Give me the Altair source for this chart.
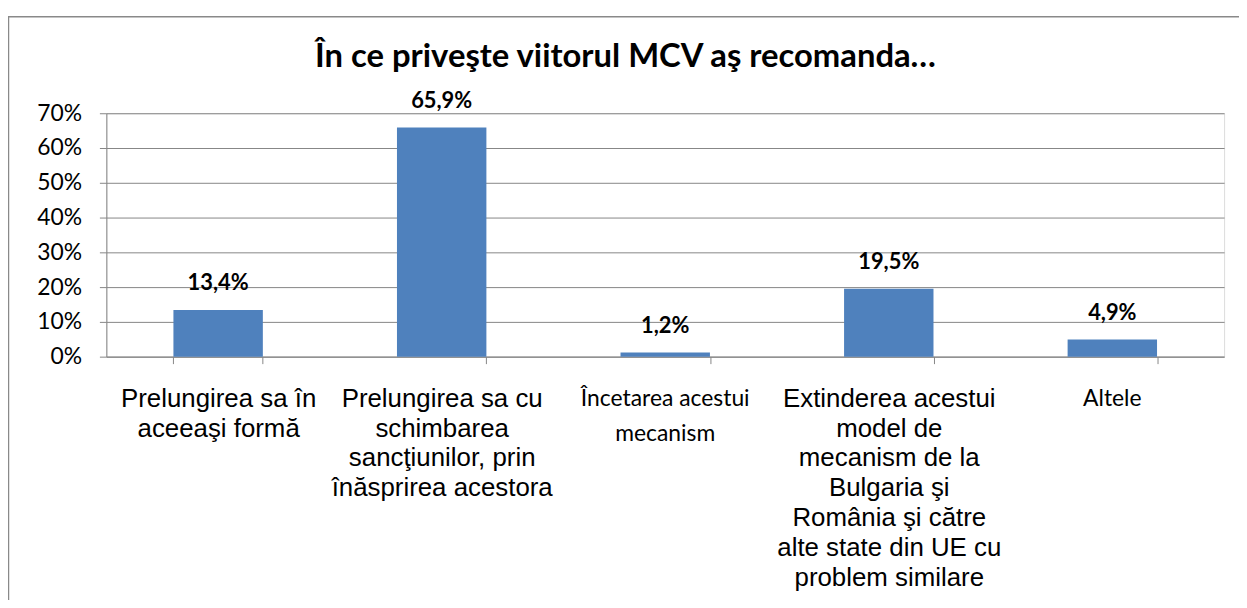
import altair as alt
import pandas as pd

categories = [
    "Prelungirea sa în|aceeaşi formă",
    "Prelungirea sa cu|schimbarea|sancţiunilor, prin|înăsprirea acestora",
    "Încetarea acestui|mecanism",
    "Extinderea acestui|model de|mecanism de la|Bulgaria şi|România şi către|alte state din UE cu|problem similare",
    "Altele",
]
small_label_cats = ["Încetarea acestui|mecanism", "Altele"]
values = [0.134, 0.659, 0.012, 0.195, 0.049]
value_labels = ["13,4%", "65,9%", "1,2%", "19,5%", "4,9%"]
y_ticks = [0, 0.1, 0.2, 0.3, 0.4, 0.5, 0.6, 0.7]

df = pd.DataFrame({"cat": categories, "val": values, "lab": value_labels})
df["small"] = df["cat"].isin(small_label_cats)

x_enc = alt.X(
    "cat:N",
    sort=categories,
    title=None,
    scale=alt.Scale(paddingInner=0.6, paddingOuter=0.3),
    axis=alt.Axis(
        labelAngle=0,
        labelExpr="datum.label == 'Altele' || indexof(datum.label, 'Încetarea') == 0 ? '' : split(datum.label, '|')",
        labelFont="Liberation Sans",
        labelFontSize=26,
        labelLineHeight=30,
        labelColor="#000000",
        labelPadding=22,
        labelBaseline="top",
        labelLimit=400,
        tickBand="extent",
        tickSize=7,
        tickColor="#868686",
        domainColor="#868686",
        grid=False,
    ),
)

y_enc = alt.Y(
    "val:Q",
    title=None,
    scale=alt.Scale(domain=[0, 0.7], nice=False),
    axis=alt.Axis(
        format=".0%",
        values=y_ticks,
        labelOverlap=False,
        labelFont="Lato",
        labelFontSize=23,
        labelColor="#000000",
        labelPadding=18,
        tickSize=7,
        tickColor="#868686",
        domainColor="#868686",
        gridColor="#868686",
        gridWidth=1,
    ),
)

base = alt.Chart(df)

bars = base.mark_bar(color="#4F81BD").encode(x=x_enc, y=y_enc)

texts = base.mark_text(
    font="Lato", fontSize=22, fontWeight="bold", color="#000000", dy=-27
).encode(x=x_enc, y=y_enc, text="lab:N")

small_labels = base.transform_filter("datum.small").mark_text(
    font="Lato", fontSize=23, color="#000000", baseline="top",
    lineBreak="|", lineHeight=35, align="center"
).encode(x=x_enc, y=alt.value(277), text="cat:N")

border = alt.Chart(pd.DataFrame({"a": [0]})).mark_rect(
    fill="transparent", stroke="#898989", strokeWidth=1.5
).encode(
    x=alt.value(-98.5), x2=alt.value(1200), y=alt.value(-97), y2=alt.value(700)
)

chart = alt.layer(border, bars, texts, small_labels).properties(
    width=1125,
    height=245,
    autosize="none",
    padding={"left": 99, "top": 104, "right": 15, "bottom": 243},
    title=alt.TitleParams(
        "În ce priveşte viitorul MCV aş recomanda…",
        font="Lato",
        fontSize=33,
        fontWeight="bold",
        color="#000000",
        anchor="middle",
        frame="group",
        dx=-40,
        offset=-58,
    ),
).configure_view(stroke=None).configure(background="white")

chart.save("out.html", embed_options={"renderer": "svg", "actions": False})
